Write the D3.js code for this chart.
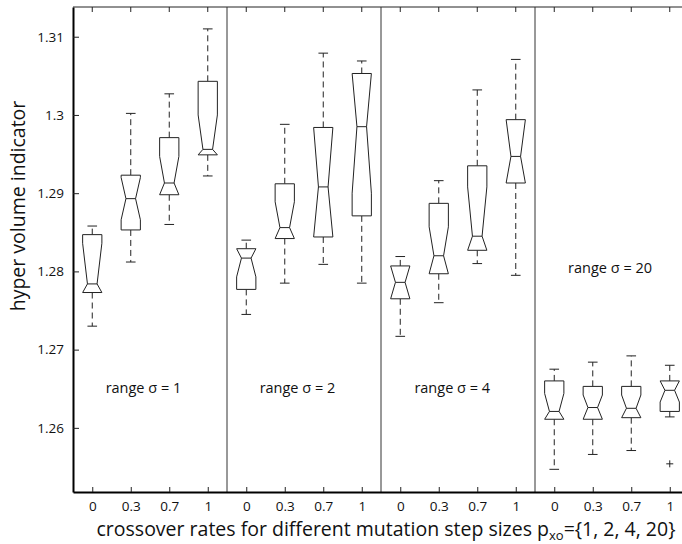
<!DOCTYPE html>
<html>
<head>
<meta charset="utf-8">
<script src="https://cdn.jsdelivr.net/npm/d3@7"></script>
<style>
  body { margin: 0; background: #fff; }
  svg { display: block; }
</style>
</head>
<body>
<svg width="682" height="544"></svg>
<script>
// group / tick labels
var groupLabels = ["range σ = 1", "range σ = 2", "range σ = 4", "range σ = 20"];
var rateLabels = ["0", "0.3", "0.7", "1"];
var yTicks = [1.26, 1.27, 1.28, 1.29, 1.30, 1.31];

// box statistics, one entry per box (4 rates x 4 step sizes)
var whiskerLow  = [1.2730, 1.2812, 1.2860, 1.2922, 1.2745, 1.2785, 1.2809, 1.2785, 1.2717, 1.2760, 1.2810, 1.2795, 1.2547, 1.2566, 1.2571, 1.2614];
var q1          = [1.2773, 1.2853, 1.2898, 1.2949, 1.2777, 1.2842, 1.2844, 1.2871, 1.2765, 1.2797, 1.2827, 1.2913, 1.2611, 1.2611, 1.2613, 1.2621];
var notchLow    = [1.2731, 1.2866, 1.2879, 1.2912, 1.2793, 1.2823, 1.2823, 1.2900, 1.2761, 1.2783, 1.2782, 1.2892, 1.2599, 1.2609, 1.2608, 1.2633];
var median      = [1.2784, 1.2893, 1.2913, 1.2956, 1.2817, 1.2856, 1.2908, 1.2985, 1.2786, 1.2820, 1.2845, 1.2947, 1.2621, 1.2626, 1.2625, 1.2648];
var notchHigh   = [1.2836, 1.2920, 1.2947, 1.3000, 1.2840, 1.2889, 1.2993, 1.3070, 1.2811, 1.2857, 1.2908, 1.3002, 1.2644, 1.2642, 1.2642, 1.2662];
var q3          = [1.2847, 1.2923, 1.2971, 1.3043, 1.2829, 1.2912, 1.2984, 1.3053, 1.2807, 1.2887, 1.2935, 1.2994, 1.2660, 1.2653, 1.2653, 1.2660];
var whiskerHigh = [1.2858, 1.3002, 1.3027, 1.3110, 1.2840, 1.2988, 1.3079, 1.3069, 1.2819, 1.2916, 1.3032, 1.3071, 1.2675, 1.2684, 1.2692, 1.2680];
var outlierBox = [16];
var outlierValue = [1.2554];

var svg = d3.select("svg"),
    width = +svg.attr("width"),
    height = +svg.attr("height");

// plot box (the right edge runs past the picture, as in the original crop)
var padL = 73, padT = 7, padB = 492, padR = 689;
var font = "'Open Sans', 'Noto Sans', sans-serif";

var x = d3.scaleLinear().domain([0.5, 16.5]).range([padL, padR]);
var y = d3.scaleLinear().domain([1.2518, 1.3138]).range([padB, padT]);

var unit = x(2) - x(1),
    hw = unit * 0.25,      // box half width
    nw = hw * 0.5,         // notch half width
    cw = hw * 0.5;         // whisker cap half width

var boxes = d3.range(16).map(function(i) {
  return {pos: i + 1, lo: whiskerLow[i], q1: q1[i], nlo: notchLow[i], med: median[i],
          nhi: notchHigh[i], q3: q3[i], hi: whiskerHigh[i]};
});

var ink = "#222";

// frame: top line, group separators
svg.append("line")
    .attr("x1", padL).attr("x2", width)
    .attr("y1", padT).attr("y2", padT)
    .attr("stroke", ink).attr("stroke-width", 1);

svg.append("g").selectAll("line")
    .data([4.5, 8.5, 12.5])
    .enter().append("line")
      .attr("x1", function(d) { return x(d); })
      .attr("x2", function(d) { return x(d); })
      .attr("y1", padT).attr("y2", padB)
      .attr("stroke", "#333").attr("stroke-width", 1);

// top ticks
svg.append("g").selectAll("line")
    .data(d3.range(1, 17))
    .enter().append("line")
      .attr("x1", function(d) { return x(d); })
      .attr("x2", function(d) { return x(d); })
      .attr("y1", padT).attr("y2", padT + 5)
      .attr("stroke", ink);

// left axis, ticks inside
var yAxis = svg.append("g")
    .attr("transform", "translate(" + padL + ",0)")
    .call(d3.axisLeft(y).tickValues(yTicks).tickSize(-6).tickSizeOuter(0).tickPadding(9)
      .tickFormat(function(d) { return String(+d.toFixed(2)); }));

// bottom axis, ticks inside
var xAxis = svg.append("g")
    .attr("transform", "translate(0," + padB + ")")
    .call(d3.axisBottom(x).tickValues(d3.range(1, 17)).tickSize(-5).tickSizeOuter(0).tickPadding(9)
      .tickFormat(function(d) { return rateLabels[(d - 1) % 4]; }));

[yAxis, xAxis].forEach(function(a) {
  a.select(".domain").attr("stroke", "#000").attr("stroke-width", 2);
  a.selectAll(".tick line").attr("stroke", ink);
  a.selectAll("text").attr("font-family", font).attr("font-size", 13.5).attr("fill", "#111");
});

// whiskers
var wg = svg.append("g").attr("stroke", ink).attr("fill", "none");

wg.selectAll("line.up")
    .data(boxes)
    .enter().append("line")
      .attr("x1", function(d) { return x(d.pos); })
      .attr("x2", function(d) { return x(d.pos); })
      .attr("y1", function(d) { return y(d.q3); })
      .attr("y2", function(d) { return y(d.hi); })
      .attr("stroke-dasharray", "6,4");

wg.selectAll("line.down")
    .data(boxes)
    .enter().append("line")
      .attr("x1", function(d) { return x(d.pos); })
      .attr("x2", function(d) { return x(d.pos); })
      .attr("y1", function(d) { return y(d.q1); })
      .attr("y2", function(d) { return y(d.lo); })
      .attr("stroke-dasharray", "6,4");

// caps
["hi", "lo"].forEach(function(k) {
  wg.selectAll("line.cap-" + k)
      .data(boxes)
      .enter().append("line")
        .attr("x1", function(d) { return x(d.pos) - cw; })
        .attr("x2", function(d) { return x(d.pos) + cw; })
        .attr("y1", function(d) { return y(d[k]); })
        .attr("y2", function(d) { return y(d[k]); });
});

// notched boxes, notch clipped to the box
function boxPath(d) {
  var cx = x(d.pos),
      yt = y(d.q3), yb = y(d.q1), ym = y(d.med),
      yh = y(Math.min(d.nhi, d.q3)),
      yl = y(Math.max(d.nlo, d.q1));
  var pts = [[cx - hw, yt], [cx - hw, yh], [cx - nw, ym], [cx - hw, yl], [cx - hw, yb],
             [cx + hw, yb], [cx + hw, yl], [cx + nw, ym], [cx + hw, yh], [cx + hw, yt]];
  return "M" + pts.join("L") + "Z";
}

svg.append("g").selectAll("path")
    .data(boxes)
    .enter().append("path")
      .attr("d", boxPath)
      .attr("fill", "#fff")
      .attr("stroke", ink)
      .attr("stroke-width", 1);

svg.append("g").selectAll("line")
    .data(boxes)
    .enter().append("line")
      .attr("x1", function(d) { return x(d.pos) - nw; })
      .attr("x2", function(d) { return x(d.pos) + nw; })
      .attr("y1", function(d) { return y(d.med); })
      .attr("y2", function(d) { return y(d.med); })
      .attr("stroke", ink);

// outliers
var og = svg.append("g").attr("stroke", ink);
outlierBox.forEach(function(b, i) {
  var cx = x(b), cy = y(outlierValue[i]);
  og.append("line").attr("x1", cx - 3.5).attr("x2", cx + 3.5).attr("y1", cy).attr("y2", cy);
  og.append("line").attr("x1", cx).attr("x2", cx).attr("y1", cy - 3.5).attr("y2", cy + 3.5);
});

// group labels
var labelPos = [[2.33, 1.2651], [6.33, 1.2651], [10.35, 1.2651], [14.45, 1.2805]];
svg.append("g").selectAll("text")
    .data(groupLabels)
    .enter().append("text")
      .attr("x", function(d, i) { return x(labelPos[i][0]); })
      .attr("y", function(d, i) { return y(labelPos[i][1]); })
      .attr("dy", "0.35em")
      .attr("text-anchor", "middle")
      .attr("font-family", font)
      .attr("font-size", 14.5)
      .attr("fill", "#111")
      .text(function(d) { return d; });

// axis titles
svg.append("text")
    .attr("transform", "translate(25,206) rotate(-90)")
    .attr("text-anchor", "middle")
    .attr("font-family", font)
    .attr("font-size", 19.5)
    .attr("fill", "#111")
    .text("hyper volume indicator");

var xt = svg.append("text")
    .attr("x", 386)
    .attr("y", 536)
    .attr("text-anchor", "middle")
    .attr("font-family", font)
    .attr("font-size", 19.5)
    .attr("fill", "#111");
xt.append("tspan").text("crossover rates for different mutation step sizes p");
xt.append("tspan").attr("dy", 4).attr("font-size", 13).text("xo");
xt.append("tspan").attr("dy", -4).text("={1, 2, 4, 20}");
</script>
</body>
</html>
